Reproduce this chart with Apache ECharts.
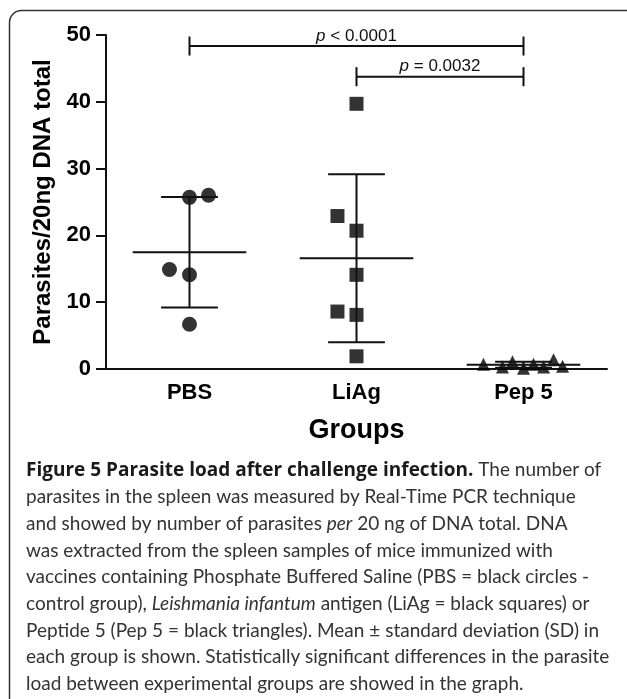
<!DOCTYPE html>
<html><head><meta charset="utf-8">
<script src="https://cdn.jsdelivr.net/npm/echarts@6/dist/echarts.min.js"></script>
<style>html,body{margin:0;padding:0;background:#fff}#c{width:627px;height:699px}</style>
</head><body><div id="c"></div>
<script>
// ---- data ----
const categories = ['PBS', 'LiAg', 'Pep 5'];
const pbsValues = [25.7, 26.0, 14.9, 14.1, 6.7];
const pbsJitter = [0, 0.114, -0.12, 0, 0];
const liagValues = [39.7, 22.9, 20.7, 14.1, 8.6, 8.1, 1.9];
const liagJitter = [0, -0.114, 0, 0, -0.114, 0, 0];
const pep5Values = [0.7, 0.3, 1.1, 0.1, 0.7, 0.3, 1.4, 0.4];
const pep5Jitter = [-0.24, -0.126, -0.066, 0, 0.06, 0.12, 0.18, 0.234];
const yMin = 0, yMax = 50, yStep = 10;
const compFrom = [0, 1];
const compTo = [2, 2];
const compLevel = [48.35, 43.76];
const compLabel = [' < 0.0001', ' = 0.0032'];
const captionLines = [
  '{b|Figure 5 Parasite load after challenge infection.}{r| The number of}',
  '{r|parasites in the spleen was measured by Real-Time PCR technique}',
  '{r|and showed by number of parasites }{i|per}{r| 20 ng of DNA total. DNA}',
  '{r|was extracted from the spleen samples of mice immunized with}',
  '{r|vaccines containing Phosphate Buffered Saline (PBS = black circles -}',
  '{r|control group), }{i|Leishmania infantum}{r| antigen (LiAg = black squares) or}',
  '{r|Peptide 5 (Pep 5 = black triangles). Mean \u00b1 standard deviation (SD) in}',
  '{r|each group is shown. Statistically significant differences in the parasite}',
  '{r|load between experimental groups are showed in the graph.}'
];

// ---- helpers ----
function mean(a) { return a.reduce((s, v) => s + v, 0) / a.length; }
function sd(a) { const m = mean(a); return Math.sqrt(a.reduce((s, v) => s + (v - m) * (v - m), 0) / (a.length - 1)); }
const groups = [pbsValues, liagValues, pep5Values];
const summary = groups.map((g, i) => [i, mean(g), sd(g)]);
const pts = (vals, jit, idx) => vals.map((v, k) => [idx + jit[k], v]);

const AX = '#111';
const F = 'Liberation Sans, Arial, sans-serif';
const CF = 'Lato, sans-serif';
const chart = echarts.init(document.getElementById('c'), null, { renderer: 'canvas' });
chart.setOption({
  animation: false,
  backgroundColor: '#fff',
  grid: { left: 106, right: 20, top: 35, bottom: 330, containLabel: false },
  xAxis: [{
    type: 'category', data: categories, boundaryGap: true,
    axisLine: { onZero: false, lineStyle: { color: AX, width: 2 } },
    axisTick: { alignWithLabel: true, length: 10, lineStyle: { color: AX, width: 2 } },
    axisLabel: { color: '#000', fontSize: 22, fontWeight: 'bold', fontFamily: F, margin: 13 },
    name: 'Groups', nameLocation: 'middle', nameGap: 48,
    nameTextStyle: { color: '#000', fontSize: 27, fontWeight: 'bold', fontFamily: F }
  }, {
    type: 'value', min: -0.5, max: 2.5, show: false
  }],
  yAxis: {
    type: 'value', min: yMin, max: yMax, interval: yStep,
    axisLine: { show: true, onZero: false, lineStyle: { color: AX, width: 2 } },
    axisTick: { show: true, length: 10, lineStyle: { color: AX, width: 2 } },
    axisLabel: { color: '#000', fontSize: 22, fontWeight: 'bold', fontFamily: F, margin: 15 },
    splitLine: { show: false },
    name: 'Parasites/20ng DNA total', nameLocation: 'middle', nameGap: 48, nameRotate: 90,
    nameTextStyle: { color: '#000', fontSize: 24, fontWeight: 'bold', fontFamily: F }
  },
  series: [
    { type: 'scatter', xAxisIndex: 1, symbol: 'circle', symbolSize: 15, itemStyle: { color: '#000' }, data: pts(pbsValues, pbsJitter, 0), z: 3 },
    { type: 'scatter', xAxisIndex: 1, symbol: 'rect', symbolSize: 14, itemStyle: { color: '#000' }, data: pts(liagValues, liagJitter, 1), z: 3 },
    { type: 'scatter', xAxisIndex: 1, symbol: 'triangle', symbolSize: 13, itemStyle: { color: '#000' }, data: pts(pep5Values, pep5Jitter, 2), z: 3 },
    {
      type: 'custom', xAxisIndex: 1, z: 4, data: summary,
      renderItem: (params, api) => {
        const x = api.value(0), m = api.value(1), s = api.value(2);
        const top = api.coord([x, m + s]), bot = api.coord([x, m - s]), mid = api.coord([x, m]);
        const bw = api.size([1, 0])[0];
        const mh = bw * 0.34, ch = bw * 0.17;
        const st = { stroke: AX, lineWidth: 2 };
        return { type: 'group', children: [
          { type: 'line', shape: { x1: top[0], y1: top[1], x2: bot[0], y2: bot[1] }, style: st },
          { type: 'line', shape: { x1: mid[0] - mh, y1: mid[1], x2: mid[0] + mh, y2: mid[1] }, style: st },
          { type: 'line', shape: { x1: top[0] - ch, y1: top[1], x2: top[0] + ch, y2: top[1] }, style: st },
          { type: 'line', shape: { x1: bot[0] - ch, y1: bot[1], x2: bot[0] + ch, y2: bot[1] }, style: st }
        ] };
      }
    },
    {
      type: 'custom', xAxisIndex: 1, z: 5, clip: false,
      data: compFrom.map((f, i) => [f, compTo[i], compLevel[i]]),
      renderItem: (params, api) => {
        const p1 = api.coord([api.value(0), api.value(2)]);
        const p2 = api.coord([api.value(1), api.value(2)]);
        const h = 9.5;
        const st = { stroke: AX, lineWidth: 2 };
        return { type: 'group', children: [
          { type: 'line', shape: { x1: p1[0], y1: p1[1], x2: p2[0], y2: p2[1] }, style: st },
          { type: 'line', shape: { x1: p1[0], y1: p1[1] - h, x2: p1[0], y2: p1[1] + h }, style: st },
          { type: 'line', shape: { x1: p2[0], y1: p2[1] - h, x2: p2[0], y2: p2[1] + h }, style: st },
          { type: 'text', x: (p1[0] + p2[0]) / 2, y: p1[1] - 10, style: {
            text: '{i|p}{n|' + compLabel[params.dataIndex] + '}',
            align: 'center', verticalAlign: 'middle', fill: '#111', fontSize: 17, fontFamily: F,
            rich: {
              i: { fontStyle: 'italic', fontSize: 17, fontFamily: F, fill: '#111' },
              n: { fontSize: 17, fontFamily: F, fill: '#111' }
            }
          } }
        ] };
      }
    }
  ],
  graphic: [
    { type: 'rect', z: -10, shape: { x: 9.5, y: 10.5, width: 630, height: 720, r: 12 },
      style: { fill: 'none', stroke: '#333', lineWidth: 1.5 } },
    { type: 'text', x: 26, y: 457, style: {
      text: captionLines.join('\n'),
      fontSize: 19, fontFamily: CF, fill: '#333', lineHeight: 26.7,
      verticalAlign: 'top', align: 'left',
      rich: {
        b: { fontSize: 19, fontFamily: 'Open Sans, sans-serif', fontWeight: 'bold', fill: '#1a1a1a', lineHeight: 26.7 },
        r: { fontSize: 19, fontFamily: CF, fill: '#333', lineHeight: 26.7 },
        i: { fontSize: 19, fontFamily: CF, fontStyle: 'italic', fill: '#333', lineHeight: 26.7 }
      }
    } }
  ]
});
</script></body></html>
